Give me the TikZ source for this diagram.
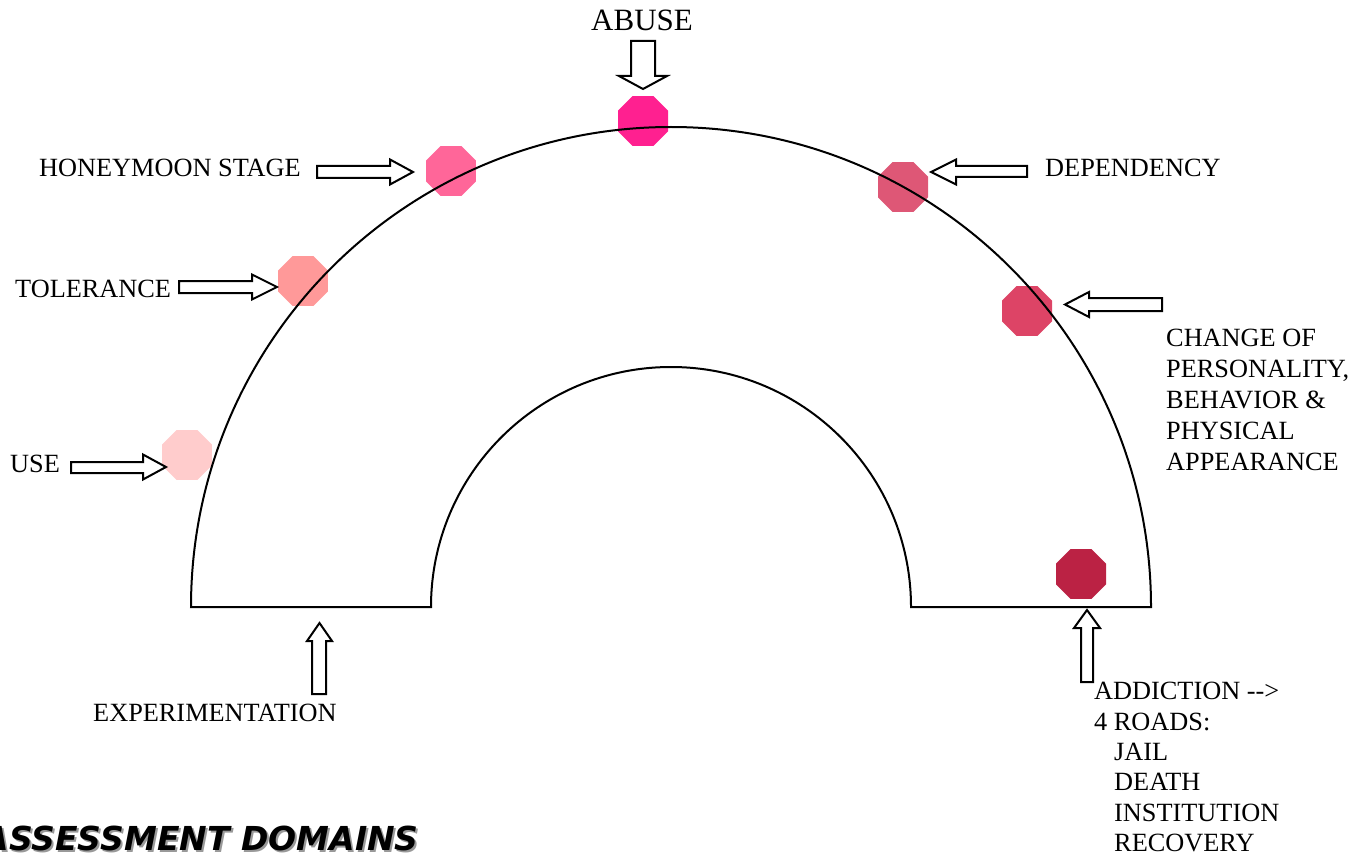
\documentclass[tikz,border=0pt]{standalone}
\usepackage{fontspec}
\setmainfont{Liberation Serif}
\newfontfamily\domfont{DejaVu Sans}
\usetikzlibrary{shapes.geometric}
\definecolor{cuse}{RGB}{255,204,204}
\definecolor{ctol}{RGB}{255,153,153}
\definecolor{choney}{RGB}{255,102,153}
\definecolor{cabuse}{RGB}{255,32,144}
\definecolor{cdep}{RGB}{222,87,118}
\definecolor{cchange}{RGB}{221,68,102}
\definecolor{caddict}{RGB}{187,34,68}
\begin{document}
\begin{tikzpicture}[x=1pt,y=-1pt,
  oct/.style={regular polygon, regular polygon sides=8, minimum size=54.1pt, inner sep=0pt, draw=none},
  blockarrow/.style={draw=black, line width=2pt, fill=white, line join=miter},
  archline/.style={draw=black, line width=2pt},
  lbl/.style={anchor=base west, inner sep=0pt, font=\fontsize{26.3}{31}\selectfont},
  dom/.style={anchor=base east, inner sep=0pt, font=\domfont\bfseries\itshape\fontsize{33}{38}\selectfont}
]
\useasboundingbox (0,0) rectangle (1372,853);
% stage markers
\node[oct, fill=cuse]    (use)    at (187,455) {};
\node[oct, fill=ctol]    (tol)    at (303,281) {};
\node[oct, fill=choney]  (honey)  at (451,171) {};
\node[oct, fill=cabuse]  (abuse)  at (643,121) {};
\node[oct, fill=cdep]    (dep)    at (903,187) {};
\node[oct, fill=cchange] (change) at (1027,311) {};
\node[oct, fill=caddict] (addict) at (1081,574) {};
% arch
\draw[archline] (191,607) arc[start angle=180, end angle=360, radius=480]
  -- (911,607) arc[start angle=360, end angle=180, radius=240] -- cycle;
% block arrows
\draw[blockarrow] (631,41) -- (655,41) -- (655,76) -- (667,76) -- (643,89) -- (619,76) -- (631,76) -- cycle;
\draw[blockarrow] (317,166) -- (390,166) -- (390,159.5) -- (413,172) -- (390,184.5) -- (390,178) -- (317,178) -- cycle;
\draw[blockarrow] (179,281) -- (252,281) -- (252,274.5) -- (277,287) -- (252,299.5) -- (252,293) -- (179,293) -- cycle;
\draw[blockarrow] (71,462) -- (143,462) -- (143,454.5) -- (166,467) -- (143,479.5) -- (143,473) -- (71,473) -- cycle;
\draw[blockarrow] (1027,166) -- (956,166) -- (956,159.5) -- (931,172) -- (956,184.5) -- (956,177) -- (1027,177) -- cycle;
\draw[blockarrow] (1162,298) -- (1089,298) -- (1089,292) -- (1065,304.5) -- (1089,317) -- (1089,311) -- (1162,311) -- cycle;
\draw[blockarrow] (1081,682) -- (1081,628) -- (1074,628) -- (1087,610) -- (1100,628) -- (1093,628) -- (1093,682) -- cycle;
\draw[blockarrow] (312,694) -- (312,641) -- (307,641) -- (319.5,623) -- (332,641) -- (326,641) -- (326,694) -- cycle;
% labels
\node[anchor=base, inner sep=0pt, font=\fontsize{31}{35}\selectfont] (tabuse) at (642,31) {ABUSE};
\node[lbl] (thoney) at (39,177) {HONEYMOON STAGE};
\node[lbl] (ttol) at (15,297) {TOLERANCE};
\node[lbl] (tuse) at (10,472) {USE};
\node[lbl] (tdep) at (1045,176) {DEPENDENCY};
\node[lbl] (tch1) at (1166,346) {CHANGE OF};
\node[lbl] (tch2) at (1166,377) {PERSONALITY,};
\node[lbl] (tch3) at (1166,408) {BEHAVIOR \&};
\node[lbl] (tch4) at (1166,439) {PHYSICAL};
\node[lbl] (tch5) at (1166,470) {APPEARANCE};
\node[lbl] (tad1) at (1094,699) {ADDICTION -{}->};
\node[lbl] (tad2) at (1094,730) {4 ROADS:};
\node[lbl] (tad3) at (1114,760) {JAIL};
\node[lbl] (tad4) at (1114,790.5) {DEATH};
\node[lbl] (tad5) at (1114,821) {INSTITUTION};
\node[lbl] (tad6) at (1114,851.5) {RECOVERY};
\node[lbl] (texp) at (93,721) {EXPERIMENTATION};
% title with shadow
\node[dom, text=black!40] (tdomsh) at (421,852) {ASSESSMENT DOMAINS};
\node[dom] (tdom) at (419,850) {ASSESSMENT DOMAINS};
\end{tikzpicture}
\end{document}
